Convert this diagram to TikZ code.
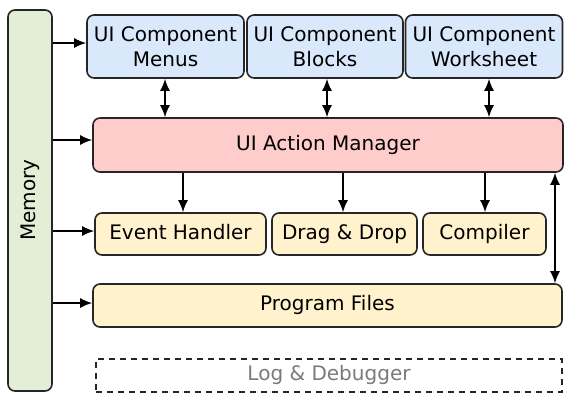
\documentclass[tikz,border=0pt]{standalone}
\usepackage{fontspec}
\setmainfont{DejaVu Sans}
\usetikzlibrary{arrows.meta}
\definecolor{uiblue}{HTML}{DAE8FC}
\definecolor{uired}{HTML}{FFCCCC}
\definecolor{uibeige}{HTML}{FFF2CC}
\definecolor{uigreen}{HTML}{E2EFD6}
\definecolor{loggray}{HTML}{7A7A7A}
\tikzset{
  txt/.style={font=\fontsize{20}{22}\selectfont},
  box/.style={draw=black!85, line width=1.6pt, rounded corners=7pt, inner sep=0pt,
    txt, align=center},
  onel/.style={text height=14.5pt, text depth=4pt},
  bluebox/.style={box, fill=uiblue},
  redbox/.style={box, fill=uired, onel},
  beigebox/.style={box, fill=uibeige, onel},
  conn/.style={line width=1.6pt, -{Latex[length=12pt,width=10pt]}},
  biconn/.style={line width=1.6pt, {Latex[length=12pt,width=10pt]}-{Latex[length=12pt,width=10pt]}},
}
\begin{document}
\begin{tikzpicture}[x=1pt,y=-1pt]
\useasboundingbox (0,0) rectangle (564,392);
% Memory
\node[box, fill=uigreen, minimum width=44pt, minimum height=381pt] (mem) at (30,200.5) {};
\node[txt, rotate=90] (memlbl) at (30,200) {Memory};
% UI components
\node[bluebox, minimum width=157pt, minimum height=63pt] (menus) at (165.5,46.5) {UI Component\\[3pt]Menus};
\node[bluebox, minimum width=156pt, minimum height=63pt] (blocks) at (325,46.5) {UI Component\\[3pt]Blocks};
\node[bluebox, minimum width=157pt, minimum height=63pt] (work) at (484,46.5) {UI Component\\[3pt]Worksheet};
% Action manager
\node[redbox, minimum width=470pt, minimum height=54pt] (mgr) at (328,145) {UI Action Manager};
% middle row
\node[beigebox, minimum width=171pt, minimum height=42pt] (event) at (180.5,234) {Event Handler};
\node[beigebox, minimum width=145pt, minimum height=42pt] (drag) at (344.5,234) {Drag \& Drop};
\node[beigebox, minimum width=123pt, minimum height=42pt] (comp) at (484.5,234) {Compiler};
% program files
\node[beigebox, minimum width=469pt, minimum height=43pt] (prog) at (327.5,305.5) {Program Files};
% log
\node[draw=black!85, line width=1.6pt, dash pattern=on 6pt off 5pt, minimum width=466pt, minimum height=33pt,
  inner sep=0pt, text=loggray, txt, onel] (log) at (329,375.5) {Log \& Debugger};
% memory arrows
\draw[conn] (mem.east |- 0,43) -- (menus.west |- 0,43);
\draw[conn] (mem.east |- 0,140) -- (mgr.west |- 0,140);
\draw[conn] (mem.east |- 0,231) -- (event.west |- 0,231);
\draw[conn] (mem.east |- 0,303) -- (prog.west |- 0,303);
% component <-> manager
\draw[biconn] (menus.south -| 165,0) -- (mgr.north -| 165,0);
\draw[biconn] (blocks.south -| 327,0) -- (mgr.north -| 327,0);
\draw[biconn] (work.south -| 489,0) -- (mgr.north -| 489,0);
% manager -> middle
\draw[conn] (mgr.south -| 183,0) -- (event.north -| 183,0);
\draw[conn] (mgr.south -| 343,0) -- (drag.north -| 343,0);
\draw[conn] (mgr.south -| 485,0) -- (comp.north -| 485,0);
% manager <-> program files
\draw[biconn] (mgr.south -| 555,0) -- (prog.north -| 555,0);
\end{tikzpicture}
\end{document}
